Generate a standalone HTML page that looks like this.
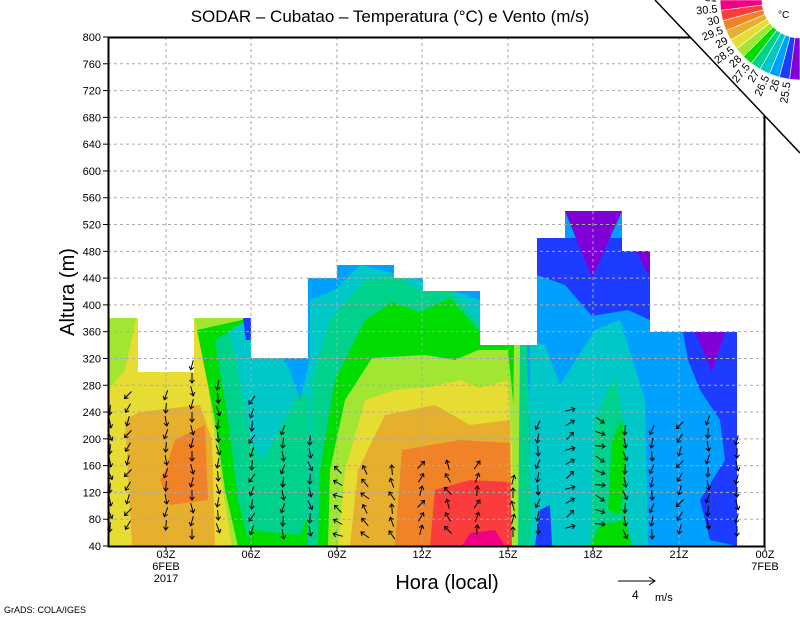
<!DOCTYPE html>
<html><head><meta charset="utf-8"><style>
html,body{margin:0;padding:0;background:#fff;}
svg{display:block;font-family:"Liberation Sans",sans-serif;}
</style></head><body>
<svg id="s" width="800" height="618" viewBox="0 0 800 618" xmlns="http://www.w3.org/2000/svg">
<defs>
<clipPath id="data">
<path d="M108,546 L108,318 L138,318 L138,372 L194,372 L194,318 L251,318 L251,358 L308,358 L308,278 L337,278 L337,265 L394,265 L394,278 L423,278 L423,291 L480,291 L480,345 L537,345 L537,238 L565,238 L565,211 L622,211 L622,251 L650,251 L650,332 L737,332 L737,546 Z"/>
</clipPath>
</defs>
<g clip-path="url(#data)">
<rect x="108" y="200" width="640" height="350" fill="#00a0ff"/>
<path d="M108,250 L250,250 L250,546 L108,546Z" fill="#e6dc32"/>
<path d="M108,300 L140,300 L125,370 L108,390Z" fill="#a0e632"/>
<path d="M132,546 L125,420 L140,412 L200,405 L212,440 L215,546Z" fill="#e6af2d"/>
<path d="M165,470 L175,440 L205,425 L208,500 L170,505 L160,480Z" fill="#f08228"/>
<path d="M194,318 L251,318 L251,546 L232,546 L215,440 L205,360 Z" fill="#a0e632"/>
<path d="M197,330 L251,318 L251,546 L238,546 L225,490 L215,420Z" fill="#00dc00"/>
<path d="M215,340 L251,318 L330,318 L330,546 L250,546 L238,500 L228,420Z" fill="#00d28c"/>
<path d="M230,330 L251,318 L330,300 L330,420 L300,390 L285,420 L262,460 L250,440 L240,380Z" fill="#00c8c8"/>
<path d="M240,318 L251,318 L270,340 L290,370 L300,400 L310,358 L330,340 L330,300 L240,300Z" fill="#00a0ff"/>
<path d="M243,318 L251,318 L251,340 L246,340Z" fill="#1e3cff"/>
<path d="M245,546 L252,530 L300,535 L315,500 L335,530 L340,546Z" fill="#00dc00"/>
<path d="M308,546 L310,300 L335,290 L360,265 L420,280 L480,300 L520,330 L530,400 L525,546Z" fill="#00c8c8"/>
<path d="M310,546 L312,380 L330,320 L365,280 L395,275 L420,290 L450,290 L485,330 L520,345 L527,420 L525,546Z" fill="#00d28c"/>
<path d="M318,546 L320,470 L335,380 L365,320 L392,302 L420,312 L450,298 L480,332 L515,345 L524,420 L522,546Z" fill="#00dc00"/>
<path d="M328,546 L330,470 L345,400 L372,358 L425,355 L455,360 L478,350 L508,350 L515,420 L516,546Z" fill="#a0e632"/>
<path d="M338,546 L345,470 L365,400 L395,390 L430,387 L460,380 L480,388 L508,380 L512,450 L514,546Z" fill="#e6dc32"/>
<path d="M350,546 L358,470 L385,415 L435,405 L470,425 L510,420 L512,546Z" fill="#e6af2d"/>
<path d="M395,546 L402,450 L460,440 L510,443 L512,546Z" fill="#f08228"/>
<path d="M430,546 L435,490 L470,480 L510,482 L512,546Z" fill="#fa3c3c"/>
<path d="M462,546 L470,533 L495,530 L505,546Z" fill="#f00082"/>
<path d="M537,238 L650,238 L650,320 L628,310 L592,316 L565,285 L537,275Z" fill="#1e3cff"/>
<path d="M565,211 L622,211 L592,278Z" fill="#8000d8"/>
<path d="M636,251 L650,251 L650,278Z" fill="#8000d8"/>
<path d="M530,546 L530,340 L545,345 L560,385 L595,330 L620,320 L645,400 L648,546Z" fill="#00c8c8"/>
<path d="M590,546 L595,420 L615,375 L625,430 L628,546Z" fill="#00d28c"/>
<path d="M608,510 L612,440 L622,420 L626,470 L620,515Z" fill="#00dc00"/>
<path d="M590,546 L600,525 L625,520 L632,546Z" fill="#00dc00"/>
<path d="M535,546 L540,510 L550,505 L552,546Z" fill="#1e3cff"/>
<path d="M683,332 L737,332 L737,546 L710,540 L700,500 L725,460 L720,420 L700,390 L688,360Z" fill="#1e3cff"/>
<path d="M695,332 L725,332 L712,372Z" fill="#8000d8"/>
<path d="M512,546 L514,340 L520,340 L528,546Z" fill="#a0e632"/>
<path d="M518,546 L520,345 L527,345 L532,546Z" fill="#00d28c"/>
</g>
<g id="grid" stroke="#aaa" stroke-dasharray="3,3" stroke-width="1"></g>
<g id="arrows" stroke="#000" stroke-width="1" fill="none"></g>
<rect x="108.5" y="37.5" width="656" height="509" fill="none" stroke="#000" stroke-width="2"/>
<path d="M655,0 L800,0 L800,153 Z" fill="#fff"/>
<line x1="655" y1="0" x2="800" y2="153" stroke="#000" stroke-width="1.5"/>
<g id="ticks" font-size="11" fill="#000"></g>
<g id="legend"></g>
<text x="390" y="22" font-size="17" text-anchor="middle">SODAR – Cubatao – Temperatura (°C) e Vento (m/s)</text>
<text x="778" y="18" font-size="10">°C</text>
<text transform="translate(74,292) rotate(-90)" font-size="20" text-anchor="middle">Altura (m)</text>
<text x="447" y="589" font-size="20" text-anchor="middle">Hora (local)</text>
<text x="166" y="570" font-size="11" text-anchor="middle">6FEB</text>
<text x="166" y="582" font-size="11" text-anchor="middle">2017</text>
<text x="765" y="570" font-size="11" text-anchor="middle">7FEB</text>
<line x1="618" y1="581" x2="655" y2="581" stroke="#000"/>
<path d="M649,577 L655,581 L649,585" stroke="#000" fill="none"/>
<text x="632" y="599" font-size="12">4</text>
<text x="655" y="601" font-size="11">m/s</text>
<text x="4" y="613" font-size="9">GrADS: COLA/IGES</text>
</svg>
<script>
var NS="http://www.w3.org/2000/svg";
function el(p,t,a,txt){var e=document.createElementNS(NS,t);for(var k in a)e.setAttribute(k,a[k]);if(txt)e.textContent=txt;p.appendChild(e);return e;}
function Y(m){return 546-(m-40)*509/760;}
var g=document.getElementById('grid'),tk=document.getElementById('ticks');
var xs=[166,251,337,422,508,593,679,765],xl=["03Z","06Z","09Z","12Z","15Z","18Z","21Z","00Z"];
for(var i=0;i<xs.length;i++){if(i<7)el(g,'line',{x1:xs[i],y1:37,x2:xs[i],y2:546});
el(tk,'line',{x1:xs[i],y1:546,x2:xs[i],y2:551,stroke:'#000'});
el(tk,'text',{x:xs[i],y:558,'text-anchor':'middle'},xl[i]);}
for(var m=40;m<=800;m+=40){var y=Y(m);if(m>40&&m<800)el(g,'line',{x1:108,y1:y,x2:765,y2:y});
el(tk,'line',{x1:103,y1:y,x2:108,y2:y,stroke:'#000'});
el(tk,'text',{x:101,y:y+4,'text-anchor':'end'},String(m));}
var ar=document.getElementById('arrows');
var cols=[[110,410,-80],[128,395,-120],[166,395,-95],[192,365,-90],[218,385,-85],[252,400,-110],[283,430,-95],[310,440,-80],[338,470,150],[365,470,130],[392,470,110],[421,465,60],[448,465,120],[477,465,70],[513,480,90],[538,425,-100],[570,410,30],[600,420,-20],[625,430,-80],[652,430,-100],[680,425,-120],[708,420,-95],[737,440,-90]];
cols.forEach(function(c){var k=0;for(var y=c[1];y<=536;y+=13){var a=(c[2]+((k++%3)-1)*15)*Math.PI/180,L=10;
var x0=c[0]-L/2*Math.cos(a),y0=y+L/2*Math.sin(a),x1=x0+L*Math.cos(a),y1=y0-L*Math.sin(a);
var hx=Math.cos(a),hy=-Math.sin(a);
var b1=[x1-4*(hx*0.8-hy*0.6),y1-4*(hy*0.8+hx*0.6)],b2=[x1-4*(hx*0.8+hy*0.6),y1-4*(hy*0.8-hx*0.6)];
el(ar,'path',{d:'M'+x0.toFixed(1)+','+y0.toFixed(1)+'L'+x1.toFixed(1)+','+y1.toFixed(1)+'M'+b1[0].toFixed(1)+','+b1[1].toFixed(1)+'L'+x1.toFixed(1)+','+y1.toFixed(1)+'L'+b2[0].toFixed(1)+','+b2[1].toFixed(1)});}});
var lg=document.getElementById('legend');
var cols2=["#f00082","#fa3c3c","#f08228","#e6af2d","#e6dc32","#a0e632","#00dc00","#00d28c","#00c8c8","#00a0ff","#1e3cff","#8000d8"];
var labs=["31","30.5","30","29.5","29","28.5","28","27.5","27","26.5","26","25.5"];
var cx=800,cy=0,r0=38,r1=80;
for(var i=0;i<12;i++){
var A0=Math.PI-i*7.5*Math.PI/180,A1=Math.PI-(i+1)*7.5*Math.PI/180;
var f=function(r,A){return (cx+r*Math.cos(A)).toFixed(1)+','+(cy+r*Math.sin(A)).toFixed(1);};
el(lg,'path',{d:'M'+f(r0,A0)+'L'+f(r1,A0)+'L'+f(r1,A1)+'L'+f(r0,A1)+'Z',fill:cols2[i],stroke:'#fff','stroke-width':0.6});
var Am=A0+0.03;var tx=cx+(r1+3)*Math.cos(Am),ty=cy+(r1+3)*Math.sin(Am);
var deg=Am*180/Math.PI-180;
el(lg,'text',{x:tx.toFixed(1),y:ty.toFixed(1),'font-size':11,'text-anchor':'end',transform:'rotate('+deg.toFixed(1)+' '+tx.toFixed(1)+' '+ty.toFixed(1)+')',dy:'4'},labs[i]);}
</script>
</body></html>
